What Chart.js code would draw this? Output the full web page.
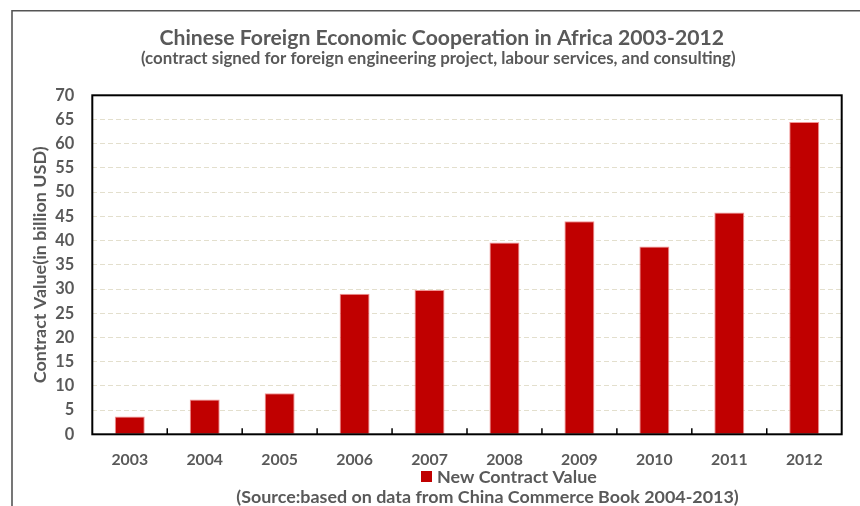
<!DOCTYPE html>
<html><head><meta charset="utf-8">
<script src="https://cdn.jsdelivr.net/npm/chart.js@4.4.0/dist/chart.umd.min.js"></script>
<style>html,body{margin:0;padding:0;background:#fff;overflow:hidden}#wrap{width:860px;height:506px;position:relative}</style>
</head><body><div id="wrap"><canvas id="c" width="860" height="506"></canvas></div>
<script>
// ---- data ----
const years = ['2003','2004','2005','2006','2007','2008','2009','2010','2011','2012'];
const contractValues = [3.7, 7.2, 8.5, 29.0, 29.8, 39.6, 44.0, 38.8, 45.8, 64.5];
const yTickValues = [0,5,10,15,20,25,30,35,40,45,50,55,60,65,70];
const seriesLabel = 'New Contract Value';
const titleText = 'Chinese Foreign Economic Cooperation in Africa 2003-2012';
const subtitleText = '(contract signed for foreign engineering project, labour services, and consulting)';
const sourceText = '(Source:based on data from China Commerce Book 2004-2013)';
const yAxisTitle = 'Contract Value(in billion USD)';

const FAMILY = 'Lato, "Open Sans", sans-serif';
const GRAY = '#595959';
const RED = '#c00000';

const mctx = document.createElement('canvas').getContext('2d');
function fit(text, target) {
  mctx.font = 'bold 100px ' + FAMILY;
  return 100 * target / mctx.measureText(text).width;
}
const sTitle = fit(titleText, 565);
const sSub = fit(subtitleText, 595);
const sSource = fit(sourceText, 503);
const sLegend = fit(seriesLabel, 160);
const sYTitle = fit(yAxisTitle, 237);
const sXTick = fit('2010', 36.7);
const sYTick = fit('70', 19);

const PLOT = {left: 92.3, top: 95.3, right: 841.7, bottom: 434.3};

const decor = {
  id: 'decor',
  beforeDraw(chart) {
    const ctx = chart.ctx;
    ctx.save();
    ctx.fillStyle = '#fff';
    ctx.fillRect(0, 0, chart.width, chart.height);
    ctx.strokeStyle = '#555';
    ctx.lineWidth = 1.6;
    ctx.beginPath();
    ctx.moveTo(12, chart.height);
    ctx.lineTo(12, 10.8);
    ctx.lineTo(chart.width, 10.8);
    ctx.stroke();
    ctx.restore();
  },
  afterDraw(chart) {
    const ctx = chart.ctx;
    const a = chart.chartArea;
    const xs = chart.scales.x;
    ctx.save();
    // frame
    ctx.strokeStyle = '#000';
    ctx.lineWidth = 2;
    ctx.strokeRect(a.left, a.top, a.right - a.left, a.bottom - a.top);
    // inner ticks at category boundaries
    ctx.lineWidth = 1.5;
    ctx.beginPath();
    for (let i = 1; i < years.length; i++) {
      const x = (xs.getPixelForValue(i - 1) + xs.getPixelForValue(i)) / 2;
      ctx.moveTo(x, a.bottom);
      ctx.lineTo(x, a.bottom - 6);
    }
    ctx.stroke();
    // texts
    ctx.fillStyle = GRAY;
    ctx.textBaseline = 'alphabetic';
    ctx.textAlign = 'center';
    ctx.font = 'bold ' + sTitle + 'px ' + FAMILY;
    ctx.fillText(titleText, 441.8, 45);
    ctx.font = 'bold ' + sSub + 'px ' + FAMILY;
    ctx.fillText(subtitleText, 438.3, 63.5);
    ctx.font = 'bold ' + sSource + 'px ' + FAMILY;
    ctx.fillText(sourceText, 487.5, 503.3);
    // legend
    const ds = chart.data.datasets[0];
    ctx.fillStyle = ds.backgroundColor;
    ctx.fillRect(421, 471, 11, 11);
    ctx.fillStyle = GRAY;
    ctx.textAlign = 'left';
    ctx.font = 'bold ' + sLegend + 'px ' + FAMILY;
    ctx.fillText(ds.label, 437, 482.7);
    ctx.restore();
  }
};

new Chart(document.getElementById('c'), {
  type: 'bar',
  data: {
    labels: years,
    datasets: [{
      label: seriesLabel,
      data: contractValues,
      backgroundColor: RED,
      borderColor: 'rgba(240,130,130,0.85)',
      borderWidth: 1,
      borderSkipped: 'bottom',
      barPercentage: 0.4,
      categoryPercentage: 1.0
    }]
  },
  options: {
    responsive: false,
    animation: false,
    devicePixelRatio: 1,
    layout: {padding: {top: PLOT.top, right: 860 - PLOT.right, bottom: 0, left: 0}},
    plugins: {legend: {display: false}, title: {display: false}, tooltip: {enabled: false}},
    scales: {
      x: {
        grid: {display: false, drawTicks: false},
        border: {display: false},
        ticks: {color: GRAY, font: {family: FAMILY, weight: 'bold', size: sXTick}, padding: 16.5, autoSkip: false, maxRotation: 0},
        afterFit(s) { s.height = 506 - PLOT.bottom; }
      },
      y: {
        min: 0, max: 70,
        afterBuildTicks(s) { s.ticks = yTickValues.map(v => ({value: v})); },
        grid: {color: '#e3dfcd', lineWidth: 1, drawTicks: false},
        border: {display: false, dash: [5, 3]},
        ticks: {color: GRAY, font: {family: FAMILY, weight: 'bold', size: sYTick}, padding: 18},
        title: {display: true, text: yAxisTitle, color: GRAY, font: {family: FAMILY, weight: 'bold', size: sYTitle}, padding: {top: 40 - sYTitle * 0.6, bottom: 0}},
        afterFit(s) { s.width = PLOT.left; }
      }
    }
  },
  plugins: [decor]
});
</script>
</body></html>
